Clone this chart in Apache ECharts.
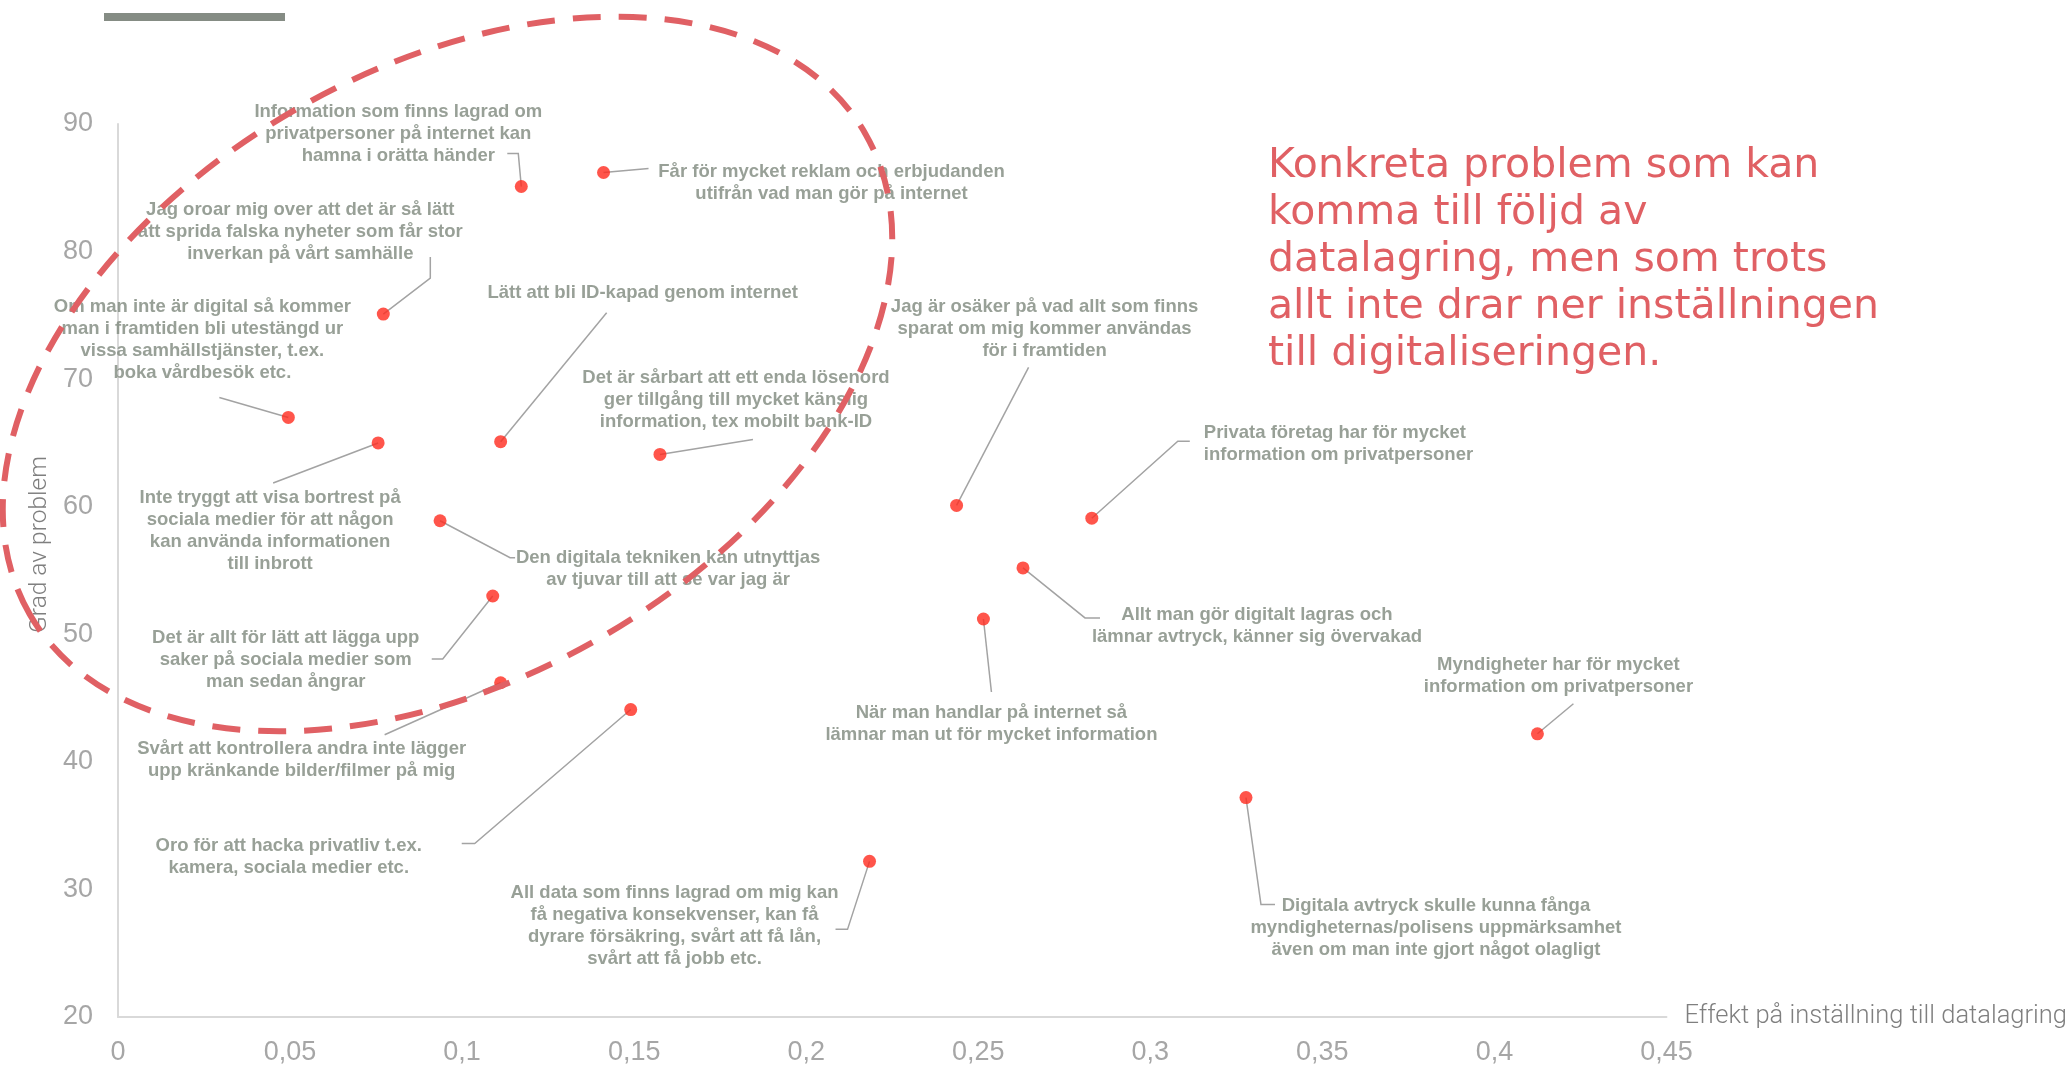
<!DOCTYPE html>
<html>
<head>
<meta charset="utf-8">
<title>Konkreta problem och datalagring</title>
<script src="https://cdn.jsdelivr.net/npm/echarts@6/dist/echarts.min.js"></script>
<style>
  html, body { margin: 0; padding: 0; background: #fff; }
  #main { width: 2070px; height: 1067px; }
</style>
</head>
<body>
<div id="main"></div>
<script>
// effekt på inställning (x) och grad av problem (y)
var problem = [
  'Information som finns lagrad om\nprivatpersoner på internet kan\nhamna i orätta händer',
  'Får för mycket reklam och erbjudanden\nutifrån vad man gör på internet',
  'Jag oroar mig over att det är så lätt\natt sprida falska nyheter som får stor\ninverkan på vårt samhälle',
  'Om man inte är digital så kommer\nman i framtiden bli utestängd ur\nvissa samhällstjänster, t.ex.\nboka vårdbesök etc.',
  'Inte tryggt att visa bortrest på\nsociala medier för att någon\nkan använda informationen\ntill inbrott',
  'Lätt att bli ID-kapad genom internet',
  'Det är sårbart att ett enda lösenord\nger tillgång till mycket känslig\ninformation, tex mobilt bank-ID',
  'Den digitala tekniken kan utnyttjas\nav tjuvar till att se var jag är',
  'Det är allt för lätt att lägga upp\nsaker på sociala medier som\nman sedan ångrar',
  'Svårt att kontrollera andra inte lägger\nupp kränkande bilder/filmer på mig',
  'Oro för att hacka privatliv t.ex.\nkamera, sociala medier etc.',
  'All data som finns lagrad om mig kan\nfå negativa konsekvenser, kan få\ndyrare försäkring, svårt att få lån,\nsvårt att få jobb etc.',
  'Jag är osäker på vad allt som finns\nsparat om mig kommer användas\nför i framtiden',
  'Privata företag har för mycket\ninformation om privatpersoner',
  'Allt man gör digitalt lagras och\nlämnar avtryck, känner sig övervakad',
  'När man handlar på internet så\nlämnar man ut för mycket information',
  'Myndigheter har för mycket\ninformation om privatpersoner',
  'Digitala avtryck skulle kunna fånga\nmyndigheternas/polisens uppmärksamhet\näven om man inte gjort något olagligt'
];
var effekt = [0.1172, 0.1411, 0.0771, 0.0495, 0.0756, 0.1112, 0.1575, 0.0936, 0.1089,
              0.1112, 0.1490, 0.2184, 0.2437, 0.2830, 0.2630, 0.2515, 0.4125, 0.3278];
var grad = [85.1, 86.2, 75.1, 67.0, 65.0, 65.1, 64.1, 58.9, 53.0,
            46.2, 44.1, 32.2, 60.1, 59.1, 55.2, 51.2, 42.2, 37.2];

// var etiketten hamnar, relativt punkten (px)
var labelOffsets = [
  [-123, -53], [228, 10], [-83, -82], [-86, -78], [-108, 88], [142, -149],
  [76, -55], [228, 48], [-207, 64], [-199, 77], [-342, 147], [-195, 65],
  [88, -177], [112, -74], [234, 58], [8, 105], [21, -58], [190, 130]
];
var leftAligned = [13];

// hänvisningslinjer, brytpunkter relativt punkten (px)
var leaderPaths = [
  [[0, 0], [-3, -33], [-14, -33]],
  [[0, 0], [45, -4]],
  [[0, 0], [47, -36], [47, -57]],
  [[0, 0], [-69, -20]],
  [[0, 0], [-105, 40]],
  [[0, 0], [106, -129]],
  [[0, 0], [93, -15]],
  [[0, 0], [70, 37], [75, 37]],
  [[0, 0], [-50, 63], [-61, 63]],
  [[0, 0], [-116, 52]],
  [[0, 0], [-156, 134], [-169, 134]],
  [[0, 0], [-22, 68], [-34, 68]],
  [[0, 0], [72, -138]],
  [[0, 0], [86, -77], [98, -77]],
  [[0, 0], [62, 50], [77, 50]],
  [[0, 0], [8, 73]],
  [[0, 0], [36, -30]],
  [[0, 0], [15, 107], [29, 107]]
];

var titleText = 'Konkreta problem som kan\nkomma till följd av\ndatalagring, men som trots\nallt inte drar ner inställningen\ntill digitaliseringen.';

var chart = echarts.init(document.getElementById('main'));

var points = problem.map(function (name, i) {
  var left = leftAligned.indexOf(i) >= 0;
  return {
    name: name,
    value: [effekt[i], grad[i]],
    label: { offset: labelOffsets[i], align: left ? 'left' : 'center' }
  };
});

function renderLeader(params, api) {
  var p = api.coord([api.value(0), api.value(1)]);
  var path = leaderPaths[params.dataIndex];
  return {
    type: 'polyline',
    shape: {
      points: path.map(function (o) { return [p[0] + o[0], p[1] + o[1]]; })
    },
    style: { stroke: '#a3a3a3', lineWidth: 1.5, fill: null }
  };
}

var option = {
  animation: false,
  title: {
    text: titleText,
    left: 1263,
    top: 138,
    textStyle: {
      color: '#e06064',
      fontSize: 41,
      fontWeight: 'normal',
      fontFamily: 'DejaVu Sans',
      lineHeight: 47
    }
  },
  grid: { left: 118, right: 403, top: 124, bottom: 50 },
  xAxis: {
    type: 'value',
    min: 0,
    max: 0.45,
    interval: 0.05,
    name: 'Effekt på inställning till datalagring',
    nameLocation: 'end',
    nameGap: 18,
    nameTextStyle: {
      color: '#7f7f7f',
      fontSize: 25.5,
      fontWeight: 300,
      fontFamily: 'Roboto',
      verticalAlign: 'middle',
      padding: [10, 0, 0, 0]
    },
    axisLine: { show: true, lineStyle: { color: '#d9d9d9', width: 2 } },
    axisTick: { show: false },
    splitLine: { show: false },
    axisLabel: {
      color: '#a6a6a6',
      fontSize: 27,
      fontFamily: 'Liberation Sans',
      margin: 22,
      formatter: function (v) { return String(+v.toFixed(2)).replace('.', ','); }
    }
  },
  yAxis: {
    type: 'value',
    min: 20,
    max: 90,
    interval: 10,
    name: 'Grad av problem',
    nameLocation: 'middle',
    nameGap: 66,
    nameTextStyle: {
      color: '#7f7f7f',
      fontSize: 24.5,
      fontWeight: 300,
      fontFamily: 'Roboto',
      padding: [0, 0, 0, 52]
    },
    axisLine: { show: true, lineStyle: { color: '#d9d9d9', width: 2 } },
    axisTick: { show: false },
    splitLine: { show: false },
    axisLabel: {
      color: '#a6a6a6',
      fontSize: 27,
      fontFamily: 'Liberation Sans',
      margin: 25
    }
  },
  series: [
    {
      type: 'custom',
      renderItem: renderLeader,
      silent: true,
      z: 2,
      data: effekt.map(function (x, i) { return [x, grad[i]]; }),
      encode: { x: 0, y: 1 }
    },
    {
      type: 'scatter',
      z: 3,
      symbolSize: 13,
      itemStyle: { color: '#ff2b1e' },
      data: points,
      label: {
        show: true,
        position: 'inside',
        formatter: '{b}',
        color: '#7e887d',
        fontSize: 18.5,
        fontWeight: 'bold',
        fontFamily: 'Liberation Sans',
        lineHeight: 22,
        verticalAlign: 'middle'
      }
    }
  ],
  graphic: [
    {
      type: 'rect',
      left: 104,
      top: 13,
      shape: { width: 181, height: 8 },
      style: { fill: '#858c84' }
    },
    {
      type: 'ellipse',
      x: 447.5,
      y: 374,
      rotation: 0.522,
      silent: true,
      z: 100,
      shape: { cx: 0, cy: 0, rx: 482, ry: 305 },
      style: { fill: 'none', stroke: '#e06064', lineWidth: 6, lineDash: [28, 18] }
    }
  ]
};

chart.setOption(option);
</script>
</body>
</html>
